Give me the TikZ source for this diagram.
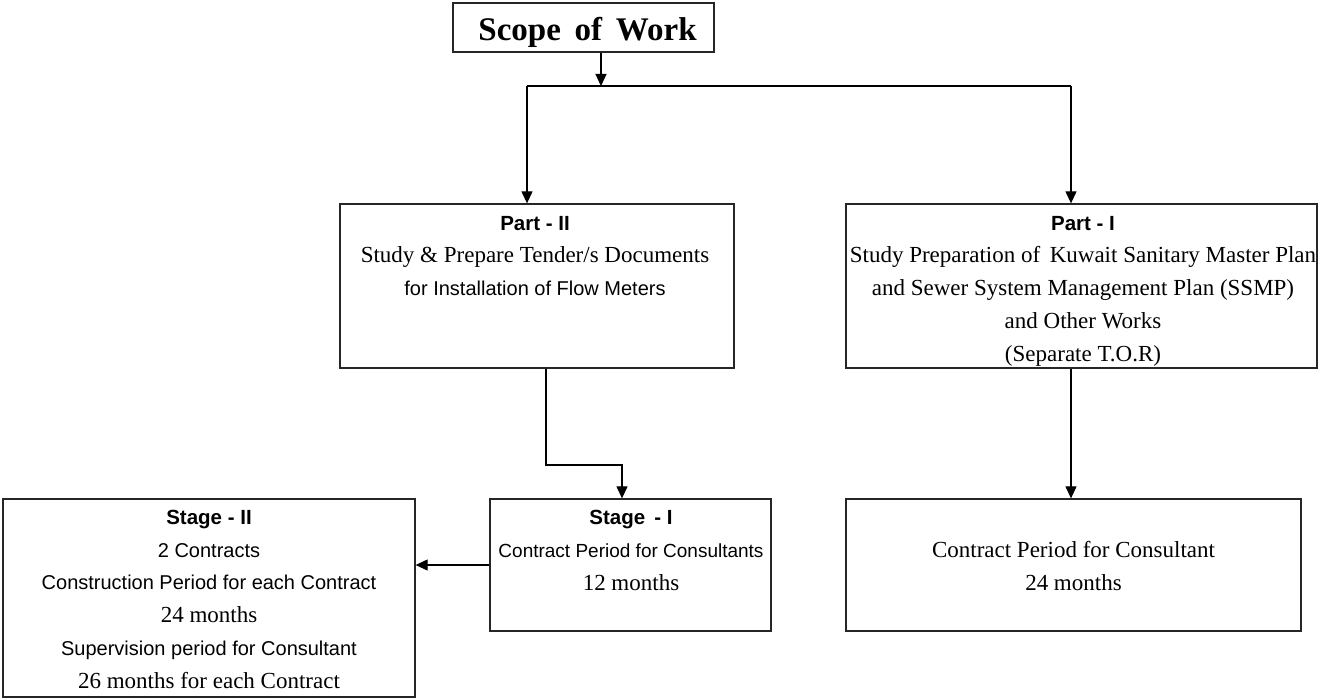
\documentclass[tikz,border=0pt]{standalone}
\usepackage{fontspec}
\setmainfont{Liberation Serif}
\newfontfamily\sansf{Liberation Sans}
\usetikzlibrary{arrows.meta}
\newcommand{\myser}{\rmfamily\fontsize{23}{32.7}\selectfont}
\newcommand{\mysan}{\sansf\fontsize{20}{32.7}\selectfont}
\newcommand{\mysansm}{\sansf\fontsize{19}{32.7}\selectfont}
\newcommand{\mybold}{\sansf\bfseries\fontsize{20.5}{32.7}\selectfont}
\begin{document}
\begin{tikzpicture}[x=1pt,y=-1pt,
  box/.style={draw=black!85, line width=1.3pt, fill=white, inner sep=0pt},
  txt/.style={align=center, anchor=base, inner sep=0pt, font=\myser},
  arr/.style={line width=1.2pt, -{Triangle[width=11pt,length=12pt]}},
  ln/.style={line width=1.2pt}]
\useasboundingbox (0,0) rectangle (1318,698);
% boxes
\node[box, minimum width=261, minimum height=49] (scope) at (583.5,27.5) {};
\node[box, minimum width=394, minimum height=164] (p2) at (537,286) {};
\node[box, minimum width=471, minimum height=164] (p1) at (1081.5,286) {};
\node[box, minimum width=281, minimum height=132] (s1) at (630.5,565) {};
\node[box, minimum width=412, minimum height=198] (s2) at (209,598) {};
\node[box, minimum width=455, minimum height=132] (cp) at (1073.5,565) {};
% texts (anchor = baseline of last line)
\node[txt, font=\rmfamily\bfseries\fontsize{33}{36}\selectfont] (tscope) at (587.5,40.5) {Scope\, of\, Work};
\node[txt] (tp2) at (535,295.5) {{\mybold Part - II}\\{\myser Study \& Prepare Tender/s Documents}\\{\mysan for Installation of Flow Meters}};
\node[txt] (tp1) at (1083,361) {{\mybold Part - I}\\{\myser Study Preparation of\, Kuwait Sanitary Master Plan}\\{\myser and Sewer System Management Plan (SSMP)}\\{\myser and Other Works}\\{\myser (Separate T.O.R)}};
\node[txt] (ts1) at (631,590) {{\mybold Stage\, - I}\\{\mysansm Contract Period for Consultants}\\{\myser 12 months}};
\node[txt] (ts2) at (209,688) {{\mybold Stage - II}\\{\mysan 2 Contracts}\\{\mysan Construction Period for each Contract}\\{\myser 24 months}\\{\mysan Supervision period for Consultant}\\{\myser 26 months for each Contract}};
\node[txt] (tcp) at (1073.5,590) {{\myser Contract Period for Consultant}\\{\myser 24 months}};
% connectors
\coordinate (j) at (601,86);
\coordinate (jl) at (527,86);
\coordinate (jr) at (1071,86);
\coordinate (b2) at (546,465);
\coordinate (b3) at (622,465);
\draw[arr] (scope.south -| j) -- (j);
\draw[ln] (jl) -- (jr);
\draw[arr] (jl) -- (jl |- p2.north);
\draw[arr] (jr) -- (jr |- p1.north);
\draw[arr] (b2 |- p2.south) -- (b2) -- (b3) -- (b3 |- s1.north);
\draw[arr] (jr |- p1.south) -- (jr |- cp.north);
\draw[arr] (s1.west) -- (s1.west -| s2.east);
\end{tikzpicture}
\end{document}
